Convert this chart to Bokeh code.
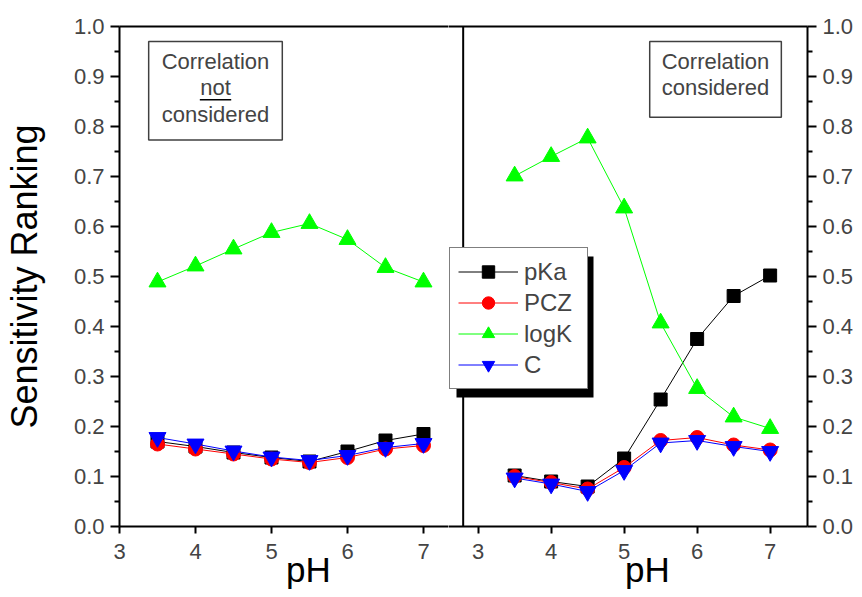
from bokeh.plotting import figure
from bokeh.layouts import row
from bokeh.models import (Range1d, FixedTicker, PrintfTickFormatter, Legend, LegendItem,
                          Label, BoxAnnotation, LinearAxis, Span)
from bokeh.embed import file_html
from bokeh.resources import INLINE

# ---------------- data ----------------
ph = [3.5, 4.0, 4.5, 5.0, 5.5, 6.0, 6.5, 7.0]

# Correlation not considered (left panel)
pka_nc = [0.170, 0.160, 0.148, 0.138, 0.130, 0.150, 0.172, 0.185]
pcz_nc = [0.165, 0.155, 0.145, 0.135, 0.128, 0.138, 0.155, 0.162]
logk_nc = [0.489, 0.521, 0.555, 0.588, 0.606, 0.574, 0.518, 0.489]
c_nc = [0.178, 0.165, 0.151, 0.139, 0.132, 0.142, 0.158, 0.166]

# Correlation considered (right panel)
pka_c = [0.102, 0.090, 0.080, 0.136, 0.254, 0.375, 0.461, 0.502]
pcz_c = [0.100, 0.088, 0.075, 0.118, 0.172, 0.178, 0.163, 0.153]
logk_c = [0.701, 0.740, 0.777, 0.637, 0.407, 0.276, 0.219, 0.196]
c_c = [0.097, 0.085, 0.070, 0.112, 0.167, 0.172, 0.160, 0.150]

series_names = ["pKa", "PCZ", "logK", "C"]
x_ticks = [3, 4, 5, 6, 7]
y_ticks = [0.0, 0.1, 0.2, 0.3, 0.4, 0.5, 0.6, 0.7, 0.8, 0.9, 1.0]
y_minor = [0.05, 0.15, 0.25, 0.35, 0.45, 0.55, 0.65, 0.75, 0.85, 0.95]

FONT = "Liberation Sans"
colors = ["black", "#ff0000", "#00ff00", "#0000ff"]
markers = ["square", "circle", "triangle", "inverted_triangle"]
sizes = [13, 14, 17, 17]
NB = "\u00a0"  # non-breaking space used to nudge the "pH" titles sideways


def style(p, xlabel):
    p.outline_line_color = None
    p.xgrid.visible = False
    p.ygrid.visible = False
    for ax in p.xaxis:
        ax.ticker = FixedTicker(ticks=x_ticks)
        ax.axis_line_width = 2
        ax.major_tick_line_width = 2
        ax.major_tick_out = 7
        ax.major_tick_in = 0
        ax.minor_tick_line_color = None
        ax.major_label_text_font = FONT
        ax.major_label_text_font_size = "22px"
        ax.major_label_standoff = 10
        ax.axis_label = xlabel
        ax.axis_label_text_font = FONT
        ax.axis_label_text_font_size = "35px"
        ax.axis_label_text_font_style = "normal"
        ax.axis_label_text_color = "black"
        ax.axis_label_standoff = -12
    for ax in p.yaxis:
        ax.ticker = FixedTicker(ticks=y_ticks, minor_ticks=y_minor)
        ax.formatter = PrintfTickFormatter(format="%.1f")
        ax.axis_line_width = 2
        ax.major_tick_line_width = 2
        ax.minor_tick_line_width = 2
        ax.major_tick_out = 9
        ax.major_tick_in = 0
        ax.minor_tick_out = 5
        ax.minor_tick_in = 0
        ax.major_label_text_font = FONT
        ax.major_label_text_font_size = "22px"
        ax.major_label_standoff = 6
    # top border line (axis line only)
    top = LinearAxis(ticker=FixedTicker(ticks=[]), axis_line_width=2,
                     major_tick_line_color=None, minor_tick_line_color=None)
    p.add_layout(top, "above")


def draw(p, ys):
    rs = []
    for y, col, mk, sz in zip(ys, colors, markers, sizes):
        lr = p.line(ph, y, line_color=col, line_width=1)
        sr = p.scatter(ph, y, marker=mk, size=sz, fill_color=col, line_color=col)
        rs.append((lr, sr))
    return rs


# ---------------- left panel ----------------
left = figure(width=448, height=597, x_range=Range1d(3, 7.329), y_range=Range1d(0, 1),
              output_backend="svg", toolbar_location=None,
              min_border_left=119, min_border_right=0, min_border_top=26, min_border_bottom=71)
style(left, NB * 5 + "pH")
left.yaxis.axis_label = "Sensitivity Ranking"
left.yaxis.axis_label_text_font = FONT
left.yaxis.axis_label_text_font_size = "36px"
left.yaxis.axis_label_text_font_style = "normal"
left.yaxis.axis_label_text_color = "black"
left.yaxis.axis_label_standoff = 26
draw(left, [pka_nc, pcz_nc, logk_nc, c_nc])

left.add_layout(Label(x=4.263, y=0.970, text="Correlation\nnot\nconsidered", text_align="center",
                      text_baseline="top", text_font=FONT, text_font_size="22px",
                      text_line_height=1.07,
                      border_line_color="#404040", border_line_width=1.5,
                      background_fill_color="white",
                      padding=dict(top=7, right=13, bottom=13, left=13)))
left.add_layout(BoxAnnotation(left=4.057, right=4.470, bottom=0.852, top=0.855,
                              fill_color="black", fill_alpha=1, line_color=None))

# ---------------- right panel ----------------
right = figure(width=414, height=597, x_range=Range1d(2.594, 7.512), y_range=Range1d(0, 1),
               output_backend="svg", toolbar_location=None, y_axis_location="right",
               min_border_left=0, min_border_right=55, min_border_top=26, min_border_bottom=71)
style(right, NB * 4 + "pH")
rr = draw(right, [pka_c, pcz_c, logk_c, c_c])

# divider between the two panels
right.add_layout(Span(location=2.795, dimension="height", line_color="black", line_width=2))

right.add_layout(Label(x=6.252, y=0.970, text="Correlation\nconsidered", text_align="center",
                       text_baseline="top", text_font=FONT, text_font_size="22px",
                       text_line_height=1.07,
                       border_line_color="#404040", border_line_width=1.5,
                       background_fill_color="white",
                       padding=dict(top=7, right=12, bottom=17, left=12)))

# legend shadow (frame-relative screen units)
right.add_layout(BoxAnnotation(left=8, right=145, top=270, bottom=129,
                               left_units="screen", right_units="screen",
                               top_units="screen", bottom_units="screen",
                               fill_color="black", fill_alpha=1, line_color=None))

legend = Legend(items=[LegendItem(label=n, renderers=[lr, sr]) for n, (lr, sr) in zip(series_names, rr)],
                location=(1, 137), padding=8, spacing=0, glyph_width=60, glyph_height=31,
                label_height=31, label_width=55, label_standoff=6, margin=0,
                label_text_font=FONT, label_text_font_size="24px",
                border_line_color="black", border_line_width=1.5, background_fill_color="white",
                background_fill_alpha=1)
right.add_layout(legend)

layout = row(left, right, spacing=0)
open("out.html", "w").write(file_html(layout, INLINE))
